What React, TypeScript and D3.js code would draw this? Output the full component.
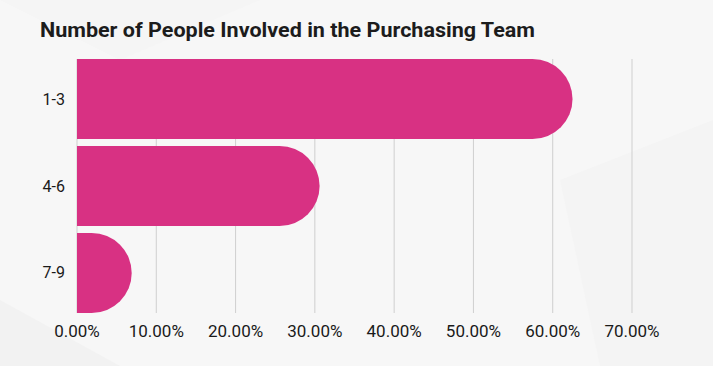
import React from "react";
import * as d3 from "d3";

const categories = ["1-3", "4-6", "7-9"];
const values = [62.5, 30.6, 6.9];
const xTicks = [0, 10, 20, 30, 40, 50, 60, 70];
const title = "Number of People Involved in the Purchasing Team";

const W = 713;
const H = 366;

function barPath(x0: number, x1: number, y0: number, h: number) {
  const w = x1 - x0;
  const r = Math.min(h / 2, w);
  const p = d3.path();
  p.moveTo(x0, y0);
  p.lineTo(x1 - r, y0);
  p.arcTo(x1, y0, x1, y0 + r, r);
  p.lineTo(x1, y0 + h - r);
  p.arcTo(x1, y0 + h, x1 - r, y0 + h, r);
  p.lineTo(x0, y0 + h);
  p.closePath();
  return p.toString();
}

export default function App() {
  const x = d3.scaleLinear().domain([0, 70]).range([77, 632]);
  const y = d3
    .scaleBand<string>()
    .domain(categories)
    .range([59, 313])
    .paddingInner(0.08)
    .paddingOuter(0.0);
  const fmt = (v: number) => v.toFixed(2) + "%";
  return (
    <svg
      width={W}
      height={H}
      style={{ position: "absolute", left: 0, top: 0 }}
      fontFamily="Roboto, sans-serif"
    >
      <rect x={0} y={0} width={W} height={H} fill="#f7f7f7" />
      <polygon points="0,300 120,366 0,366" fill="#f2f2f2" />
      <polygon points="560,180 713,120 713,366 600,366" fill="#f4f4f4" />
      <polygon points="0,0 260,0 120,60" fill="#f5f5f5" />
      {xTicks.map((t) => (
        <line
          key={t}
          x1={x(t)}
          x2={x(t)}
          y1={59}
          y2={313}
          stroke="#cfcfcf"
          strokeWidth={1}
        />
      ))}
      {categories.map((c, i) => (
        <path
          key={c}
          d={barPath(x(0), x(values[i]), y(c)!, y.bandwidth())}
          fill="#d83183"
        />
      ))}
      {categories.map((c) => (
        <text
          key={c}
          x={65}
          y={y(c)! + y.bandwidth() / 2}
          textAnchor="end"
          dominantBaseline="central"
          fontSize={16}
          fill="#1a1a1a"
        >
          {c}
        </text>
      ))}
      {xTicks.map((t) => (
        <text
          key={t}
          x={x(t)}
          y={331}
          textAnchor="middle"
          dominantBaseline="central"
          fontSize={17}
          fill="#1a1a1a"
        >
          {fmt(t)}
        </text>
      ))}
      <text
        x={40}
        y={37}
        fontSize={21}
        fontWeight="bold"
        fill="#1c1c1c"
        textLength={495}
        lengthAdjust="spacingAndGlyphs"
      >
        {title}
      </text>
    </svg>
  );
}
